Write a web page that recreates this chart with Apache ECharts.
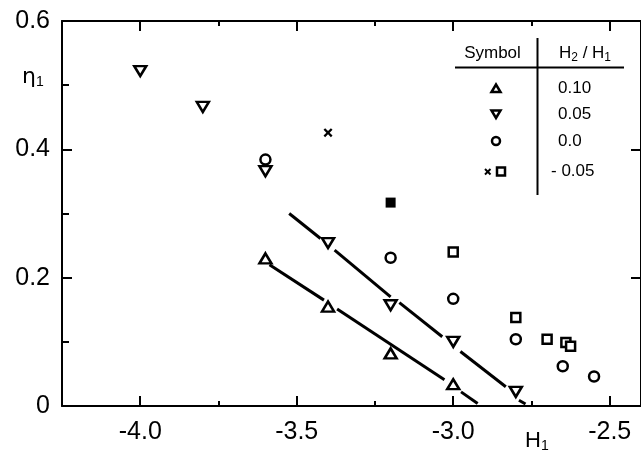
<!DOCTYPE html>
<html><head><meta charset="utf-8">
<script src="https://cdn.jsdelivr.net/npm/echarts@6/dist/echarts.min.js"></script>
<style>html,body{margin:0;padding:0;background:#fff}#c{width:641px;height:453px}</style>
</head><body><div id="c"></div>
<script>
// ---- axis ticks ----
const xMajorTicks = [-4.0, -3.5, -3.0, -2.5];
const xMinorTicks = [-3.75, -3.25, -2.75];
const yMajorTicks = [0, 0.2, 0.4, 0.6];
const yMinorTicks = [0.1, 0.3, 0.5];

// ---- data (H1, eta1) by H2/H1 ratio ----
const ratio010 = [[-3.6, 0.230], [-3.4, 0.155], [-3.2, 0.082], [-3.0, 0.034]];                 // triangle up
const ratio005 = [[-4.0, 0.522], [-3.8, 0.466], [-3.6, 0.366], [-3.4, 0.254], [-3.2, 0.157], [-3.0, 0.100], [-2.8, 0.022]]; // triangle down
const ratio000 = [[-3.6, 0.384], [-3.2, 0.231], [-3.0, 0.167], [-2.8, 0.104], [-2.65, 0.062], [-2.55, 0.046]];  // circle
const ratioM005Cross = [[-3.4, 0.426]];
const ratioM005Square = [[-3.0, 0.240], [-2.8, 0.138], [-2.7, 0.104], [-2.64, 0.099], [-2.625, 0.093]];
const ratioM005Filled = [[-3.2, 0.317]];

// broken fit lines (segments between marker gaps)
const upperFitSegments = [
  [[-3.524, 0.300], [-3.424, 0.261]],
  [[-3.379, 0.243], [-3.200, 0.170]],
  [[-3.172, 0.161], [-3.035, 0.108]],
  [[-2.977, 0.085], [-2.832, 0.030]],
  [[-2.790, 0.009], [-2.769, 0.003]]
];
const lowerFitSegments = [
  [[-3.587, 0.220], [-3.413, 0.165]],
  [[-3.371, 0.151], [-3.028, 0.041]],
  [[-2.975, 0.022], [-2.922, 0.004]]
];

// legend table
const legendHeader = ['Symbol', 'H{s|2} / H{s|1}'];
const legendValues = ['0.10', '0.05', '0.0', '- 0.05'];

const FONT = 'Liberation Sans, Arial, sans-serif';
const chart = echarts.init(document.getElementById('c'), null, {renderer: 'canvas'});

const X_MIN = -4.25, X_MAX = -2.4;
function xAx(pos, ticks, len, showLine, showLabel) {
  return {
    type: 'value', min: X_MIN, max: X_MAX, position: pos,
    axisLine: {show: showLine, onZero: false, lineStyle: {color: '#000', width: 2}},
    axisTick: {show: true, inside: true, length: len, customValues: ticks, lineStyle: {color: '#000', width: 2}},
    axisLabel: {show: showLabel, customValues: ticks, formatter: v => v.toFixed(1), fontSize: 25, color: '#000', fontFamily: FONT, margin: 14},
    splitLine: {show: false}
  };
}
function yAx(pos, ticks, len, showLine, showLabel) {
  return {
    type: 'value', min: 0, max: 0.6, position: pos,
    axisLine: {show: showLine, onZero: false, lineStyle: {color: '#000', width: 2}},
    axisTick: {show: true, inside: true, length: len, customValues: ticks, lineStyle: {color: '#000', width: 2}},
    axisLabel: {show: showLabel, customValues: ticks, formatter: v => (v === 0 ? '0' : v.toFixed(1)), fontSize: 25, color: '#000', fontFamily: FONT, margin: 12},
    splitLine: {show: false}
  };
}

const markerStyle = {color: '#fff', borderColor: '#000', borderWidth: 2.5, opacity: 1};
const series = [];
upperFitSegments.concat(lowerFitSegments).forEach(seg => {
  series.push({type: 'line', data: seg, symbol: 'none', lineStyle: {color: '#000', width: 3}, z: 1, silent: true});
});
series.push({type: 'scatter', data: ratio010, symbol: 'triangle', symbolSize: [12, 10], itemStyle: markerStyle, z: 3});
series.push({type: 'scatter', data: ratio005, symbol: 'triangle', symbolRotate: 180, symbolSize: [12, 10], itemStyle: markerStyle, z: 3});
series.push({type: 'scatter', data: ratio000, symbol: 'circle', symbolSize: 10, itemStyle: markerStyle, z: 3});
series.push({type: 'scatter', data: ratioM005Square, symbol: 'rect', symbolSize: 9, itemStyle: markerStyle, z: 3});
series.push({type: 'scatter', data: ratioM005Filled, symbol: 'rect', symbolSize: 10, itemStyle: {color: '#000', opacity: 1}, z: 3});
series.push({type: 'scatter', data: ratioM005Cross,
  symbol: 'path://M0,1.8L1.8,0L5,3.2L8.2,0L10,1.8L6.8,5L10,8.2L8.2,10L5,6.8L1.8,10L0,8.2L3.2,5Z',
  symbolSize: 9, itemStyle: {color: '#000', opacity: 1}, z: 3});

const legendRowY = [88, 114, 141, 171.5];
const graphics = [
  {type: 'line', shape: {x1: 455, y1: 67.5, x2: 624, y2: 67.5}, style: {stroke: '#000', lineWidth: 2}},
  {type: 'line', shape: {x1: 537.5, y1: 38, x2: 537.5, y2: 195}, style: {stroke: '#000', lineWidth: 2}},
  {type: 'text', x: 492.5, y: 53, style: {text: legendHeader[0], font: '17px ' + FONT, fill: '#000', align: 'center', verticalAlign: 'middle'}},
  {type: 'text', x: 585, y: 53, style: {text: legendHeader[1], font: '17px ' + FONT, fill: '#000', align: 'center', verticalAlign: 'middle',
    rich: {s: {fontSize: 12, fontFamily: FONT, padding: [9, 0, 0, 0]}}}},
  // legend markers
  {type: 'polygon', shape: {points: [[491.5, 92], [500.5, 92], [496, 84.5]]}, style: {fill: '#fff', stroke: '#000', lineWidth: 2.5}},
  {type: 'polygon', shape: {points: [[491.5, 110.5], [500.5, 110.5], [496, 118]]}, style: {fill: '#fff', stroke: '#000', lineWidth: 2.5}},
  {type: 'circle', shape: {cx: 496, cy: 141, r: 4}, style: {fill: '#fff', stroke: '#000', lineWidth: 2.5}},
  {type: 'line', shape: {x1: 485, y1: 169, x2: 490.5, y2: 174.5}, style: {stroke: '#000', lineWidth: 2}},
  {type: 'line', shape: {x1: 490.5, y1: 169, x2: 485, y2: 174.5}, style: {stroke: '#000', lineWidth: 2}},
  {type: 'rect', shape: {x: 497, y: 167.5, width: 8, height: 8}, style: {fill: '#fff', stroke: '#000', lineWidth: 2.5}},
  // axis titles
  {type: 'text', x: 22, y: 77, style: {text: 'η{s|1}', font: '22px DejaVu Sans', fill: '#000', verticalAlign: 'middle',
    rich: {s: {fontSize: 14, fontFamily: FONT, padding: [10, 0, 0, 0]}}}},
  {type: 'text', x: 525, y: 441, style: {text: 'H{s|1}', font: '22px ' + FONT, fill: '#000', verticalAlign: 'middle',
    rich: {s: {fontSize: 14, fontFamily: FONT, padding: [10, 0, 0, 0]}}}}
];
legendValues.forEach((t, i) => {
  graphics.push({type: 'text', x: i === 3 ? 551 : 558, y: legendRowY[i], style: {text: t, font: '17px ' + FONT, fill: '#000', align: 'left', verticalAlign: 'middle'}});
});

chart.setOption({
  animation: false,
  backgroundColor: '#fff',
  grid: {left: 62, top: 21, width: 584, height: 385, containLabel: false},
  xAxis: [
    xAx('bottom', xMajorTicks, 10, true, true),
    xAx('bottom', xMinorTicks, 5, false, false),
    xAx('top', xMajorTicks, 10, true, false),
    xAx('top', xMinorTicks, 5, false, false)
  ],
  yAxis: [
    yAx('left', yMajorTicks, 10, true, true),
    yAx('left', yMinorTicks, 7, false, false),
    yAx('right', yMajorTicks, 10, true, false)
  ],
  series: series,
  graphic: graphics
});
</script>
</body></html>
